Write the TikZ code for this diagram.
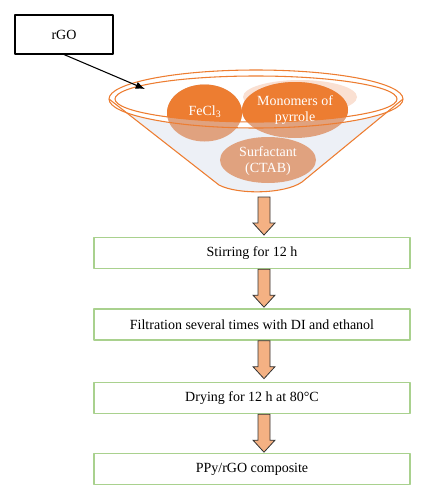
\documentclass[tikz,border=0pt]{standalone}
\usepackage{fontspec}
\setmainfont{Liberation Serif}
\usetikzlibrary{positioning,calc,arrows.meta}
\definecolor{funnelor}{HTML}{ED7D31}
\definecolor{lightor}{HTML}{E0A27F}
\definecolor{pinkor}{HTML}{FAE0D2}
\definecolor{bodygray}{HTML}{EDF0F6}
\definecolor{arrowor}{HTML}{F4B183}
\definecolor{boxgreen}{HTML}{A9D18E}
\tikzset{
  stepbox/.style={draw=boxgreen, line width=1pt, minimum width=316*0.75pt, minimum height=31*0.75pt, inner sep=0pt},
  blob/.style={text=white, align=center, font=\fontsize{10.5}{12}\selectfont},
  barrow/.style={draw=black!80, fill=arrowor, line width=0.6pt, line join=miter}
}
\newcommand{\blockarrow}[1]{%
  \draw[barrow] #1 ++(-6,0) -- ++(0,26) -- ++(-5,0) -- ++(11,12) -- ++(11,-12) -- ++(-5,0) -- ++(0,-26) -- cycle;}
\begin{document}
\begin{tikzpicture}[x=0.75pt, y=-0.75pt, font=\fontsize{10.5}{12}\selectfont, line join=round, >={Latex[length=7pt,width=5.5pt]}]
	\useasboundingbox (0,0) rectangle (426,500);
	\node[draw, line width=0.8pt, minimum width=98*0.75pt, minimum height=39*0.75pt] (rgo) at (64,34.5) {rGO};
	% funnel
	\coordinate (rimL) at (109,99);
	\coordinate (rimR) at (403,99);
	\coordinate (botL) at (219,185);
	\coordinate (botR) at (302,182);
	\fill[bodygray] (rimL) -- (botL) .. controls (238,195) and (285,194) .. (botR) -- (rimR) -- cycle;
	\fill[white] (256,99) ellipse (147 and 29);
	\draw[funnelor, line width=0.8pt] (rimL) -- (botL) .. controls (238,195) and (285,194) .. (botR) -- (rimR);
	\fill[pinkor] (300,97) ellipse (57 and 17);
	% lower parts
	\fill[lightor] (204.5,113) ellipse (37.5 and 28.5);
	\fill[lightor] (295,110) ellipse (53 and 28);
	\fill[lightor] (268,160) ellipse (48 and 23);
	\begin{scope}
		\clip (256,99) ellipse (141 and 23);
		\fill[funnelor] (204.5,113) ellipse (37.5 and 28.5);
		\fill[funnelor] (295,110) ellipse (53 and 28);
	\end{scope}
	\draw[funnelor, line width=0.8pt] (256,99) ellipse (147 and 29);
	\draw[funnelor, line width=0.8pt] (256,99) ellipse (141 and 23);
	\node[blob] (fecl) at (205,112) {FeCl\textsubscript{3}};
	\node[blob] (mono) at (295,110) {Monomers of\\pyrrole};
	\node[blob] (ctab) at (268,161) {Surfactant\\(CTAB)};
	\coordinate (drop) at (145,89);
	\draw[->, line width=0.8pt] (rgo.south) -- (drop);
	% Các bước
	\node[stepbox] (s1) at (252,253) {Stirring for 12 h};
	\node[stepbox] (s2) at (252,324.5) {Filtration several times with DI and ethanol};
	\node[stepbox] (s3) at (252,398) {Drying for 12 h at 80°C};
	\node[stepbox] (s4) at (252,469) {PPy/rGO composite};
	\coordinate (ax) at (264,197);
	\blockarrow{(ax)}
	\blockarrow{(ax |- s1.south)}
	\blockarrow{(ax |- s2.south)}
	\blockarrow{(ax |- s3.south)}
\end{tikzpicture}
\end{document}
